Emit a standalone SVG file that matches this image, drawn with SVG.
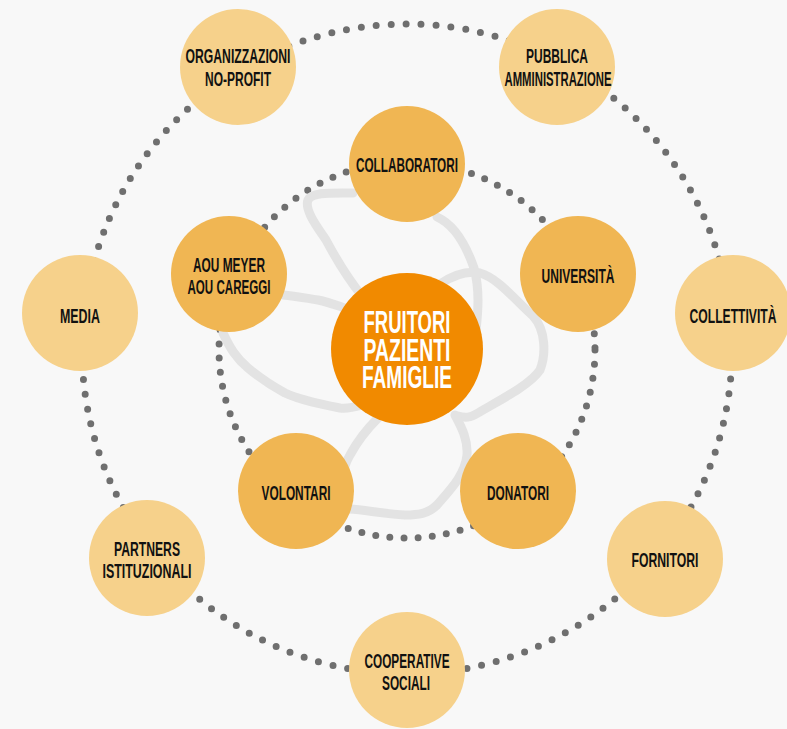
<svg xmlns="http://www.w3.org/2000/svg" width="787" height="729" viewBox="0 0 787 729">
<style>
.outer{fill:#F6D18B}
.inner{fill:#F0B653}
.core{fill:#F18A00}
.lbl{font-family:"Liberation Sans Narrow","Liberation Sans",Arial,sans-serif;font-weight:bold;font-size:20px;fill:#111;text-anchor:middle}
.clbl{font-family:"Liberation Sans Narrow","Liberation Sans",Arial,sans-serif;font-weight:bold;font-size:32px;fill:#fff;text-anchor:middle}
.dots{fill:none;stroke:#6F6F6F;stroke-width:7;stroke-linecap:round}
.blob{fill:none;stroke:#E3E3E3;stroke-width:9;stroke-linecap:round;stroke-linejoin:round}
</style>
<rect width="787" height="729" fill="#F8F8F8"/>
<g id="connectors">
<circle class="dots" cx="407" cy="349" r="325" stroke-dasharray="0 15"/>
<circle class="dots" cx="407" cy="350" r="188" stroke-dasharray="0 14.2"/>
<path class="blob" d="M353,193 C330,193 312,192 308,200 C304,210 318,228 326,240 C334,255 345,275 362,296"/>
<path class="blob" d="M437,217 C455,225 466,245 474,268 C480,290 478,312 476,330"/>
<path class="blob" d="M440,284 C452,276 465,270 480,273 C498,278 515,300 533,316 C546,330 546,355 540,370 C530,385 500,400 478,413 C470,418 465,418 458,416"/>
<path class="blob" d="M455,415 C462,428 468,440 467,455 C465,475 450,490 437,505 C428,514 418,515 405,515 C385,514 365,510 350,509"/>
<path class="blob" d="M378,418 C368,428 357,442 350,455 C347,460 346,463 345,466"/>
<path class="blob" d="M283,295 C295,296 305,298 318,300 C328,302 336,305 345,308"/>
<path class="blob" d="M223,333 C230,348 236,358 248,368 C260,378 270,385 285,393 C300,400 320,404 340,408 C348,409 355,407 362,405"/>
</g>
<g id="organizzazioni">
<circle class="outer" cx="238" cy="67" r="58"/>
<text class="lbl" x="238" y="63" textLength="105" lengthAdjust="spacingAndGlyphs">ORGANIZZAZIONI</text>
<text class="lbl" x="238" y="86" textLength="66" lengthAdjust="spacingAndGlyphs">NO-PROFIT</text>
</g>
<g id="pubblica">
<circle class="outer" cx="557" cy="67" r="58"/>
<text class="lbl" x="557" y="63" textLength="62" lengthAdjust="spacingAndGlyphs">PUBBLICA</text>
<text class="lbl" x="558" y="86" textLength="107" lengthAdjust="spacingAndGlyphs">AMMINISTRAZIONE</text>
</g>
<g id="media">
<circle class="outer" cx="80" cy="313" r="58"/>
<text class="lbl" x="80" y="323" textLength="40" lengthAdjust="spacingAndGlyphs">MEDIA</text>
</g>
<g id="collettivita">
<circle class="outer" cx="733" cy="313" r="58"/>
<text class="lbl" x="733" y="323" textLength="87" lengthAdjust="spacingAndGlyphs">COLLETTIVITÀ</text>
</g>
<g id="partners">
<circle class="outer" cx="147" cy="558" r="58"/>
<text class="lbl" x="147" y="556" textLength="66" lengthAdjust="spacingAndGlyphs">PARTNERS</text>
<text class="lbl" x="147" y="578" textLength="89" lengthAdjust="spacingAndGlyphs">ISTITUZIONALI</text>
</g>
<g id="fornitori">
<circle class="outer" cx="665" cy="559" r="58"/>
<text class="lbl" x="665" y="567" textLength="67" lengthAdjust="spacingAndGlyphs">FORNITORI</text>
</g>
<g id="cooperative">
<circle class="outer" cx="407" cy="670" r="58"/>
<text class="lbl" x="407" y="668" textLength="85" lengthAdjust="spacingAndGlyphs">COOPERATIVE</text>
<text class="lbl" x="406" y="690" textLength="48" lengthAdjust="spacingAndGlyphs">SOCIALI</text>
</g>
<g id="collaboratori">
<circle class="inner" cx="407" cy="164" r="58"/>
<text class="lbl" x="407" y="172" textLength="102" lengthAdjust="spacingAndGlyphs">COLLABORATORI</text>
</g>
<g id="aou">
<circle class="inner" cx="229" cy="274" r="58"/>
<text class="lbl" x="229" y="272" textLength="72" lengthAdjust="spacingAndGlyphs">AOU MEYER</text>
<text class="lbl" x="229" y="294" textLength="83" lengthAdjust="spacingAndGlyphs">AOU CAREGGI</text>
</g>
<g id="universita">
<circle class="inner" cx="578" cy="274" r="58"/>
<text class="lbl" x="578" y="283" textLength="73" lengthAdjust="spacingAndGlyphs">UNIVERSITÀ</text>
</g>
<g id="volontari">
<circle class="inner" cx="296" cy="491" r="58"/>
<text class="lbl" x="296" y="500" textLength="69" lengthAdjust="spacingAndGlyphs">VOLONTARI</text>
</g>
<g id="donatori">
<circle class="inner" cx="518" cy="491" r="58"/>
<text class="lbl" x="518" y="500" textLength="62" lengthAdjust="spacingAndGlyphs">DONATORI</text>
</g>
<g id="fruitori">
<circle class="core" cx="407" cy="349" r="76"/>
<text class="clbl" x="407" y="333" textLength="87" lengthAdjust="spacingAndGlyphs">FRUITORI</text>
<text class="clbl" x="407" y="361" textLength="87" lengthAdjust="spacingAndGlyphs">PAZIENTI</text>
<text class="clbl" x="407" y="388" textLength="90" lengthAdjust="spacingAndGlyphs">FAMIGLIE</text>
</g>
</svg>
